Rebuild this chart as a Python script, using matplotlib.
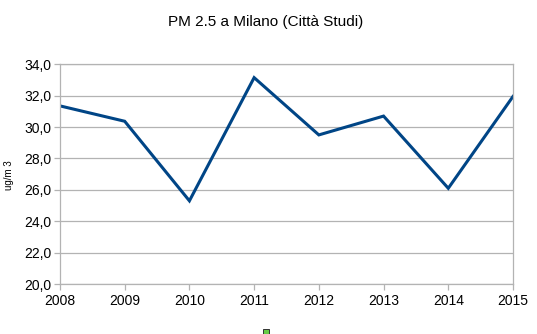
import numpy as np
import matplotlib
matplotlib.use("Agg")
import matplotlib.pyplot as plt
from matplotlib.patches import Rectangle
from matplotlib.ticker import FuncFormatter

plt.rcParams['font.family'] = ['Liberation Sans', 'DejaVu Sans']

# data
years = [2008, 2009, 2010, 2011, 2012, 2013, 2014, 2015]
pm25 = [31.35, 30.37, 25.3, 33.15, 29.5, 30.7, 26.1, 31.95]
y_ticks = [20, 22, 24, 26, 28, 30, 32, 34]

title = "PM 2.5 a Milano (Città Studi)"
y_label = "ug/m 3"

line_col = '#004586'
frame_col = '#b3b3b3'

fig = plt.figure(figsize=(5.37, 3.34), dpi=100)
ax = fig.add_axes([0.1117, 0.1497, 0.8436, 0.6578])

ax.plot(years, pm25, color=line_col, lw=2.2, solid_joinstyle='miter')

ax.set_xlim(years[0], years[-1])
ax.set_ylim(y_ticks[0], y_ticks[-1])
ax.set_xticks(years)
ax.set_yticks(y_ticks)
ax.yaxis.set_major_formatter(FuncFormatter(lambda v, p: ('%.1f' % v).replace('.', ',')))
ax.grid(axis='y', color=frame_col, lw=0.9)
ax.set_axisbelow(True)
for s in ax.spines.values():
    s.set_color(frame_col)
    s.set_linewidth(0.9)
ax.tick_params(colors=frame_col, labelcolor='black', labelsize=10, length=4, width=0.9)
ax.tick_params(axis='x', pad=3)
ax.tick_params(axis='y', pad=2)

fig.text(0.494, 0.934, title, ha='center', va='center', fontsize=11)
fig.text(0.016, 0.475, y_label, ha='center', va='center', rotation=90, fontsize=7)

# legend symbol remnant at the bottom edge
fig.add_artist(Rectangle((0.4898, -0.004), 0.0112, 0.018, transform=fig.transFigure,
                         facecolor='#66cc44', edgecolor='#333333', lw=0.7))

fig.savefig('out.png', dpi=100)
